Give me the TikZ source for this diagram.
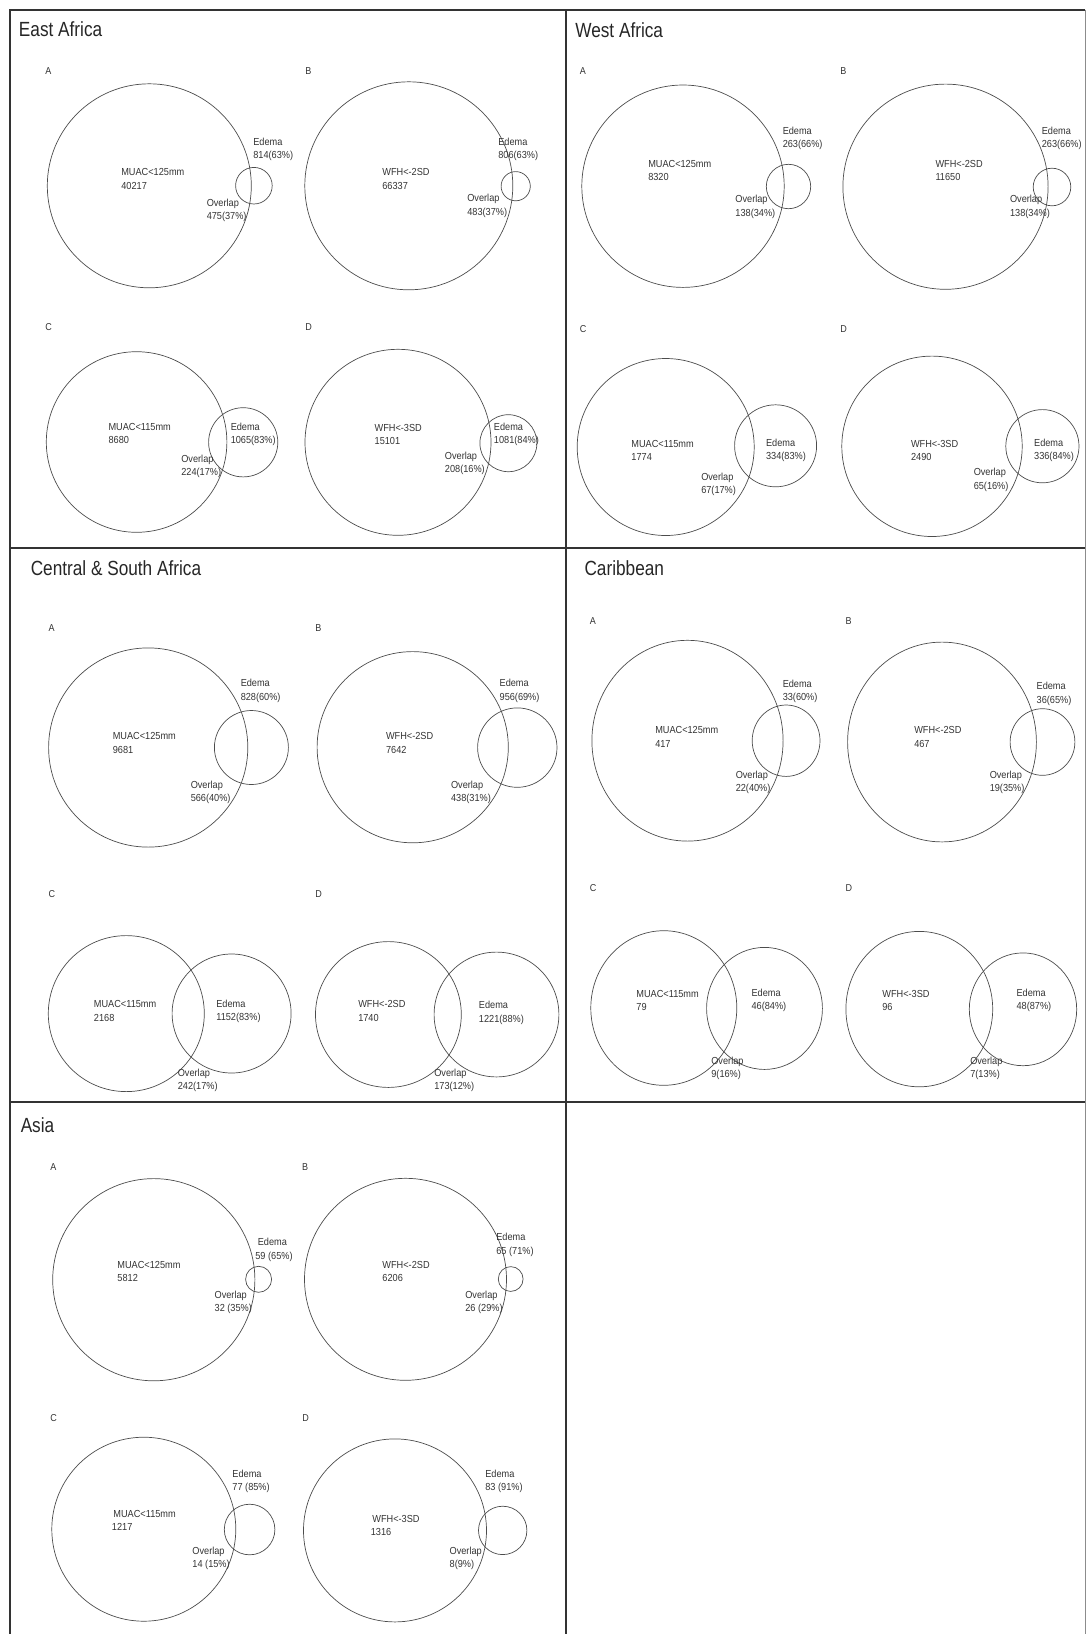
\documentclass[tikz,border=0pt]{standalone}
\usepackage{fontspec}
\setmainfont{Liberation Sans}[FakeStretch=0.9]
\newfontfamily\titlefont{Liberation Sans}[FakeStretch=0.84]
\usetikzlibrary{shapes.geometric}

\definecolor{inkgray}{HTML}{333333}

\begin{document}
\begin{tikzpicture}[x=1pt,y=-1pt,line width=0.7pt,draw=black!70]
    \tikzset{ring/.style 2 args={ellipse,draw=black!70,inner sep=0pt,outer sep=0pt,minimum width=#1,minimum height=#2}}
    \tikzset{lbl/.style={anchor=west,align=left,inner sep=0pt,text=inkgray,font=\fontsize{10.2}{13.3}\selectfont}}
    \tikzset{tag/.style={anchor=west,inner sep=0pt,text=inkgray,font=\fontsize{10}{12}\selectfont}}
    \tikzset{region/.style={anchor=base west,inner sep=0pt,text=black!85,font=\titlefont\fontsize{20.5}{24}\selectfont}}
    \tikzset{frame/.style={line width=2pt,draw=black!80}}

    \useasboundingbox (0,0) rectangle (1086,1634);

    % Draw the panel frame
    \coordinate (tl) at (10,9.5);
    \coordinate (tr) at (1085,9.5);
    \coordinate (bl) at (10,1634);
    \coordinate (br) at (1085,1634);
    \coordinate (mt) at (565.5,9.5);
    \coordinate (mb) at (565.5,1634);
    \coordinate (r1l) at (10,548);
    \coordinate (r1r) at (1085,548);
    \coordinate (r2l) at (10,1102);
    \coordinate (r2r) at (1085,1102);
    \draw[frame] (bl) -- (tl) -- (tr);
    \draw[line width=1pt,draw=black!45] (tr) -- (br);
    \draw[frame] (mt) -- (mb);
    \draw[frame] (r1l) -- (r1r);
    \draw[frame] (r2l) -- (r2r);

    % East Africa
    \node[region] (ea) at (18.6,36.7) {East Africa};
    \node[tag] (eaA) at (45,70.7) {A};
    \node[tag] (eaB) at (305,70.7) {B};
    \node[tag] (eaC) at (45,326.7) {C};
    \node[tag] (eaD) at (305,326.7) {D};
    \node[ring={204pt}{204pt}] (eaA-big) at (149.3,185.8) {};
    \node[ring={36.6pt}{36.6pt}] (eaA-sm) at (253.9,185.7) {};
    \node[lbl] (eaA-t) at (121,179) {MUAC<125mm\\40217};
    \node[lbl] (eaA-e) at (253,149.3) {Edema\\814(63\%)};
    \node[lbl] (eaA-o) at (206.4,210.3) {Overlap\\475(37\%)};
    \node[ring={208pt}{208pt}] (eaB-big) at (408.8,185.8) {};
    \node[ring={29.2pt}{29.2pt}] (eaB-sm) at (515.7,186.2) {};
    \node[lbl] (eaB-t) at (382,179) {WFH<-2SD\\66337};
    \node[lbl] (eaB-e) at (498,149.3) {Edema\\806(63\%)};
    \node[lbl] (eaB-o) at (467,206) {Overlap\\483(37\%)};
    \node[ring={180.6pt}{180.6pt}] (eaC-big) at (136.6,442) {};
    \node[ring={69.2pt}{69.2pt}] (eaC-sm) at (243.2,442.3) {};
    \node[lbl] (eaC-t) at (108.2,433.7) {MUAC<115mm\\8680};
    \node[lbl] (eaC-e) at (230.4,434.7) {Edema\\1065(83\%)};
    \node[lbl] (eaC-o) at (181,466.7) {Overlap\\224(17\%)};
    \node[ring={186pt}{186pt}] (eaD-big) at (398,442.3) {};
    \node[ring={57pt}{57pt}] (eaD-sm) at (508.4,443.2) {};
    \node[lbl] (eaD-t) at (374.3,434.3) {WFH<-3SD\\15101};
    \node[lbl] (eaD-e) at (493.6,434.7) {Edema\\1081(84\%)};
    \node[lbl] (eaD-o) at (444.6,463.3) {Overlap\\208(16\%)};

    % West Africa
    \node[region] (wa) at (575,37.3) {West Africa};
    \node[tag] (waA) at (579.5,70.7) {A};
    \node[tag] (waB) at (840,70.7) {B};
    \node[tag] (waC) at (579.5,329) {C};
    \node[tag] (waD) at (840,329) {D};
    \node[ring={202.4pt}{202.4pt}] (waA-big) at (683,186.2) {};
    \node[ring={44.4pt}{44.4pt}] (waA-sm) at (788.5,186.5) {};
    \node[lbl] (waA-t) at (647.9,170.5) {MUAC<125mm\\8320};
    \node[lbl] (waA-e) at (782.4,138.7) {Edema\\263(66\%)};
    \node[lbl] (waA-o) at (735.1,207) {Overlap\\138(34\%)};
    \node[ring={205.2pt}{205.2pt}] (waB-big) at (945.5,186.7) {};
    \node[ring={37.6pt}{37.6pt}] (waB-sm) at (1052,187) {};
    \node[lbl] (waB-t) at (935.2,170.5) {WFH<-2SD\\11650};
    \node[lbl] (waB-e) at (1041.5,138.7) {Edema\\263(66\%)};
    \node[lbl] (waB-o) at (1009.7,207) {Overlap\\138(34\%)};
    \node[ring={177pt}{177pt}] (waC-big) at (665.7,447) {};
    \node[ring={82pt}{82pt}] (waC-sm) at (775.6,445.8) {};
    \node[lbl] (waC-t) at (631.1,450.3) {MUAC<115mm\\1774};
    \node[lbl] (waC-e) at (765.7,450.3) {Edema\\334(83\%)};
    \node[lbl] (waC-o) at (700.9,484.5) {Overlap\\67(17\%)};
    \node[ring={180.4pt}{180.4pt}] (waD-big) at (932,446.3) {};
    \node[ring={73.2pt}{73.2pt}] (waD-sm) at (1042.4,446.2) {};
    \node[lbl] (waD-t) at (910.7,450.3) {WFH<-3SD\\2490};
    \node[lbl] (waD-e) at (1033.8,450.3) {Edema\\336(84\%)};
    \node[lbl] (waD-o) at (973.4,480) {Overlap\\65(16\%)};

    % Central & South Africa
    \node[region] (cs) at (30.4,575.5) {Central \& South Africa};
    \node[tag] (csA) at (48.2,628) {A};
    \node[tag] (csB) at (315,628) {B};
    \node[tag] (csC) at (48.2,893.7) {C};
    \node[tag] (csD) at (315,893.7) {D};
    \node[ring={199.2pt}{199.2pt}] (csA-big) at (148.2,747.5) {};
    \node[ring={74pt}{74pt}] (csA-sm) at (251.4,747.5) {};
    \node[lbl] (csA-t) at (112.5,742.9) {MUAC<125mm\\9681};
    \node[lbl] (csA-e) at (240.4,690.9) {Edema\\828(60\%)};
    \node[lbl] (csA-o) at (190.4,792.3) {Overlap\\566(40\%)};
    \node[ring={191.2pt}{191.2pt}] (csB-big) at (412.7,747.2) {};
    \node[ring={79.4pt}{79.4pt}] (csB-sm) at (517.3,747.6) {};
    \node[lbl] (csB-t) at (385.7,742.9) {WFH<-2SD\\7642};
    \node[lbl] (csB-e) at (499.3,690.9) {Edema\\956(69\%)};
    \node[lbl] (csB-o) at (450.7,792.3) {Overlap\\438(31\%)};
    \node[ring={156pt}{156pt}] (csC-big) at (126.3,1013.6) {};
    \node[ring={119pt}{119pt}] (csC-sm) at (231.6,1013.5) {};
    \node[lbl] (csC-t) at (93.6,1011.1) {MUAC<115mm\\2168};
    \node[lbl] (csC-e) at (216,1011.1) {Edema\\1152(83\%)};
    \node[lbl] (csC-o) at (177.5,1080) {Overlap\\242(17\%)};
    \node[ring={145.8pt}{145.8pt}] (csD-big) at (388.4,1014.5) {};
    \node[ring={124.8pt}{124.8pt}] (csD-sm) at (496.5,1014.5) {};
    \node[lbl] (csD-t) at (357.9,1011.1) {WFH<-2SD\\1740};
    \node[lbl] (csD-e) at (478.6,1012.8) {Edema\\1221(88\%)};
    \node[lbl] (csD-o) at (434,1080) {Overlap\\173(12\%)};

    % Caribbean
    \node[region] (ca) at (584.2,575.5) {Caribbean};
    \node[tag] (caA) at (589.5,621) {A};
    \node[tag] (caB) at (845.2,621) {B};
    \node[tag] (caC) at (589.5,888.1) {C};
    \node[tag] (caD) at (845.2,888.1) {D};
    \node[ring={191.2pt}{200.8pt}] (caA-big) at (687.5,740.7) {};
    \node[ring={67.8pt}{71.4pt}] (caA-sm) at (786.1,740.7) {};
    \node[lbl] (caA-t) at (654.9,737) {MUAC<125mm\\417};
    \node[lbl] (caA-e) at (782.4,691.1) {Edema\\33(60\%)};
    \node[lbl] (caA-o) at (735.4,782.3) {Overlap\\22(40\%)};
    \node[ring={188.8pt}{199.8pt}] (caB-big) at (942,742) {};
    \node[ring={64.8pt}{66.6pt}] (caB-sm) at (1042.5,742) {};
    \node[lbl] (caB-t) at (913.9,737) {WFH<-2SD\\467};
    \node[lbl] (caB-e) at (1036.3,693.9) {Edema\\36(65\%)};
    \node[lbl] (caB-o) at (989.4,782.3) {Overlap\\19(35\%)};
    \node[ring={146pt}{154.6pt}] (caC-big) at (663.8,1008) {};
    \node[ring={115.8pt}{122pt}] (caC-sm) at (764.5,1008.4) {};
    \node[lbl] (caC-t) at (636.1,1000.5) {MUAC<115mm\\79};
    \node[lbl] (caC-e) at (751.2,1000.5) {Edema\\46(84\%)};
    \node[lbl] (caC-o) at (711,1068.1) {Overlap\\9(16\%)};
    \node[ring={146.8pt}{155.4pt}] (caD-big) at (919.3,1009.1) {};
    \node[ring={107.4pt}{112.8pt}] (caD-sm) at (1023,1009.3) {};
    \node[lbl] (caD-t) at (882,1000.5) {WFH<-3SD\\96};
    \node[lbl] (caD-e) at (1016.2,1000.5) {Edema\\48(87\%)};
    \node[lbl] (caD-o) at (969.9,1068.1) {Overlap\\7(13\%)};

    % Asia
    \node[region] (as) at (20.4,1132.4) {Asia};
    \node[tag] (asA) at (50,1167.4) {A};
    \node[tag] (asB) at (301.8,1167.4) {B};
    \node[tag] (asC) at (50,1417.8) {C};
    \node[tag] (asD) at (302,1417.8) {D};
    \node[ring={202.2pt}{202.2pt}] (asA-big) at (153.8,1279.7) {};
    \node[ring={26pt}{26pt}] (asA-sm) at (258.6,1279.3) {};
    \node[lbl] (asA-t) at (117.1,1271.7) {MUAC<125mm\\5812};
    \node[lbl] (asA-e) at (255,1249.9) {\hspace{2.5pt}Edema\\59 (65\%)};
    \node[lbl] (asA-o) at (214.3,1302.3) {Overlap\\32 (35\%)};
    \node[ring={202pt}{202pt}] (asB-big) at (405.5,1279.3) {};
    \node[ring={24.8pt}{24.8pt}] (asB-sm) at (510.7,1279) {};
    \node[lbl] (asB-t) at (382.1,1271.7) {WFH<-2SD\\6206};
    \node[lbl] (asB-e) at (496,1244.8) {Edema\\65 (71\%)};
    \node[lbl] (asB-o) at (465,1302.3) {Overlap\\26 (29\%)};
    \node[ring={184pt}{184pt}] (asC-big) at (143.8,1529.2) {};
    \node[ring={50.6pt}{50.6pt}] (asC-sm) at (249.6,1529.5) {};
    \node[lbl] (asC-t) at (111.6,1520.3) {\hspace{1.5pt}MUAC<115mm\\1217};
    \node[lbl] (asC-e) at (232.1,1481.5) {Edema\\77 (85\%)};
    \node[lbl] (asC-o) at (192.1,1558.5) {Overlap\\14 (15\%)};
    \node[ring={183pt}{183pt}] (asD-big) at (395,1530.4) {};
    \node[ring={48.4pt}{48.4pt}] (asD-sm) at (502.7,1530.4) {};
    \node[lbl] (asD-t) at (370.5,1525.8) {\hspace{1.5pt}WFH<-3SD\\1316};
    \node[lbl] (asD-e) at (485,1481.5) {Edema\\83 (91\%)};
    \node[lbl] (asD-o) at (449.3,1558.5) {Overlap\\8(9\%)};
\end{tikzpicture}
\end{document}
